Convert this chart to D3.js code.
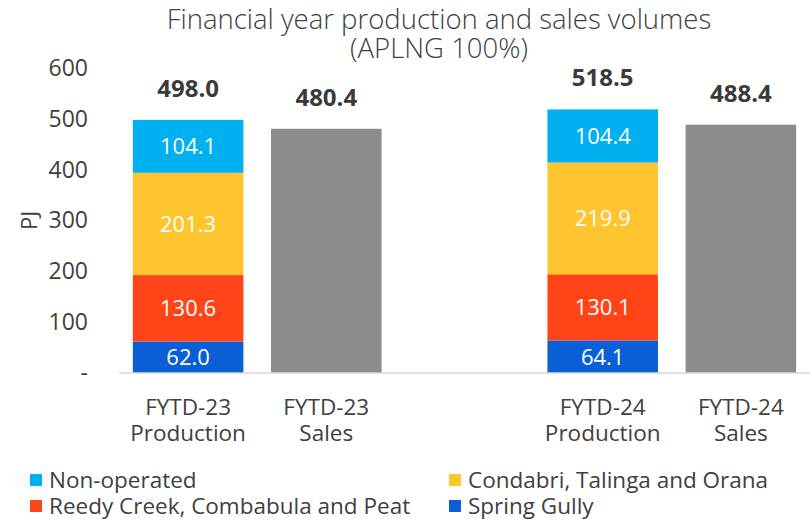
<!DOCTYPE html>
<html>
<head>
<meta charset="utf-8">
<script src="https://cdn.jsdelivr.net/npm/d3@7"></script>
<style>
  body { margin: 0; background: #fff; }
  text { font-family: "Open Sans", Lato, sans-serif; }
</style>
</head>
<body>
<div id="chart"></div>
<script>
// data
const categories = ["FYTD-23 Production", "FYTD-23 Sales", "", "FYTD-24 Production", "FYTD-24 Sales"];
const catLines = [["FYTD-23", "Production"], ["FYTD-23", "Sales"], [], ["FYTD-24", "Production"], ["FYTD-24", "Sales"]];
const seriesNames = ["Spring Gully", "Reedy Creek, Combabula and Peat", "Condabri, Talinga and Orana", "Non-operated"];
const springGully = [62.0, null, null, 64.1, null];
const reedyCreek = [130.6, null, null, 130.1, null];
const condabri = [201.3, null, null, 219.9, null];
const nonOperated = [104.1, null, null, 104.4, null];
const sales = [null, 480.4, null, null, 488.4];
const totals = [498.0, 480.4, null, 518.5, 488.4];
const yTicks = [0, 100, 200, 300, 400, 500, 600];

const colors = {
  "Spring Gully": "#0b5fd6",
  "Reedy Creek, Combabula and Peat": "#ff4517",
  "Condabri, Talinga and Orana": "#ffc52f",
  "Non-operated": "#00b0f0"
};
const salesColor = "#8c8c8c";
const textColor = "#404040";

const width = 810, height = 521;
const margin = { top: 68, right: 0, bottom: 148, left: 119 };

const svg = d3.select("#chart").append("svg")
  .attr("width", width)
  .attr("height", height);

const x = d3.scaleBand()
  .domain(categories.map((c, i) => i))
  .range([margin.left, width - margin.right])
  .paddingInner(0.2)
  .paddingOuter(0.1);

const y = d3.scaleLinear()
  .domain([0, 600])
  .range([height - margin.bottom, margin.top]);

// title
svg.append("text")
  .attr("x", 439).attr("y", 29)
  .attr("text-anchor", "middle")
  .attr("font-size", 27.5).attr("font-weight", 300)
  .attr("fill", textColor)
  .text("Financial year production and sales volumes");
svg.append("text")
  .attr("x", 439).attr("y", 58)
  .attr("text-anchor", "middle")
  .attr("font-size", 27.5).attr("font-weight", 300)
  .attr("fill", textColor)
  .text("(APLNG 100%)");

// y axis
const yAxis = svg.append("g")
  .attr("transform", `translate(${margin.left - 28},0)`)
  .call(d3.axisLeft(y).tickValues(yTicks).tickSize(0).tickFormat(d => d === 0 ? "-" : d));
yAxis.select(".domain").remove();
yAxis.selectAll("text")
  .attr("font-size", 23)
  .attr("font-family", "'Open Sans', Lato, sans-serif")
  .attr("fill", textColor);

svg.append("text")
  .attr("transform", `translate(37,${y(300)}) rotate(-90)`)
  .attr("text-anchor", "middle")
  .attr("font-size", 22)
  .attr("fill", textColor)
  .text("PJ");

// stacked bars
const rows = categories.map((c, i) => ({
  i: i,
  "Spring Gully": springGully[i] || 0,
  "Reedy Creek, Combabula and Peat": reedyCreek[i] || 0,
  "Condabri, Talinga and Orana": condabri[i] || 0,
  "Non-operated": nonOperated[i] || 0
}));
const stack = d3.stack().keys(seriesNames)(rows);

const layers = svg.append("g").selectAll("g")
  .data(stack)
  .enter().append("g")
  .attr("fill", d => colors[d.key]);

layers.selectAll("rect")
  .data(d => d.filter(p => p[1] - p[0] > 0))
  .enter().append("rect")
  .attr("x", d => x(d.data.i))
  .attr("width", x.bandwidth())
  .attr("y", d => y(d[1]))
  .attr("height", d => y(d[0]) - y(d[1]));

layers.selectAll("text")
  .data(d => d.filter(p => p[1] - p[0] > 0))
  .enter().append("text")
  .attr("x", d => x(d.data.i) + x.bandwidth() / 2)
  .attr("y", d => y((d[0] + d[1]) / 2))
  .attr("dy", "0.36em")
  .attr("text-anchor", "middle")
  .attr("font-size", 22)
  .attr("fill", "#fff")
  .text(d => (d[1] - d[0]).toFixed(1));

// sales bars
svg.append("g").selectAll("rect")
  .data(sales.map((v, i) => ({ i: i, v: v })).filter(d => d.v != null))
  .enter().append("rect")
  .attr("x", d => x(d.i))
  .attr("width", x.bandwidth())
  .attr("y", d => y(d.v))
  .attr("height", d => y(0) - y(d.v))
  .attr("fill", salesColor);

// totals
svg.append("g").selectAll("text")
  .data(totals.map((v, i) => ({ i: i, v: v })).filter(d => d.v != null))
  .enter().append("text")
  .attr("x", d => x(d.i) + x.bandwidth() / 2)
  .attr("y", d => y(d.v) - 23)
  .attr("text-anchor", "middle")
  .attr("font-size", 24)
  .attr("font-weight", "bold")
  .attr("fill", "#3a3a3a")
  .text(d => d.v.toFixed(1));

// baseline
svg.append("line")
  .attr("x1", margin.left).attr("x2", width)
  .attr("y1", y(0)).attr("y2", y(0))
  .attr("stroke", "#d9d9d9").attr("stroke-width", 1.5);

// category labels
const xl = svg.append("g").selectAll("text")
  .data(catLines.map((l, i) => ({ i: i, l: l })))
  .enter().append("text")
  .attr("text-anchor", "middle")
  .attr("font-size", 22.5)
  .attr("fill", textColor);
xl.selectAll("tspan")
  .data(d => d.l.map(s => ({ i: d.i, s: s })))
  .enter().append("tspan")
  .attr("x", d => x(d.i) + x.bandwidth() / 2)
  .attr("y", (d, j) => 415 + j * 26)
  .text(d => d.s);

// legend
const legendOrder = ["Non-operated", "Condabri, Talinga and Orana", "Reedy Creek, Combabula and Peat", "Spring Gully"];
const lg = svg.append("g").selectAll("g")
  .data(legendOrder)
  .enter().append("g")
  .attr("transform", (d, i) => `translate(${i % 2 === 0 ? 30 : 449},${480 + Math.floor(i / 2) * 26})`);
lg.append("rect")
  .attr("x", 0).attr("y", -6)
  .attr("width", 12).attr("height", 12)
  .attr("fill", d => colors[d]);
lg.append("text")
  .attr("x", 19).attr("y", 0)
  .attr("dy", "0.36em")
  .attr("font-size", 22.5)
  .attr("fill", textColor)
  .text(d => d);
</script>
</body>
</html>
